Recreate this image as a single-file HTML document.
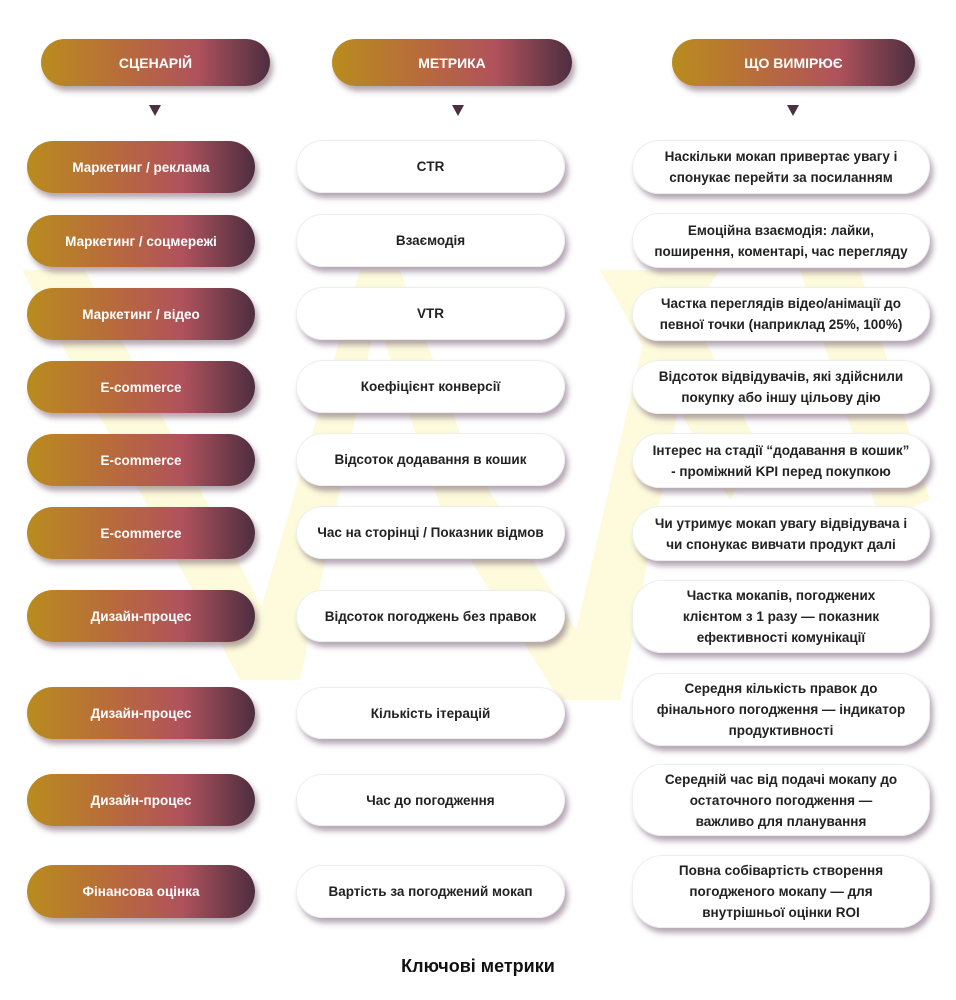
<!DOCTYPE html>
<html><head><meta charset="utf-8"><style>
body{margin:0;width:956px;height:1000px;background:#fff;position:relative;overflow:hidden;font-family:"Liberation Sans","DejaVu Sans",sans-serif;}
.p{position:absolute;border-radius:30px;display:flex;align-items:center;justify-content:center;text-align:center;font-weight:bold;box-sizing:border-box;}
.g{background:linear-gradient(90deg,#b98c1e 0%,#b86a3c 38%,#b0525c 68%,#4d2e40 100%);color:#fff;font-size:13.5px;box-shadow:3px 5px 6px rgba(90,60,80,.45);}
.w{background:#fff;color:#222;font-size:13.5px;box-shadow:3px 5px 6px rgba(90,60,90,.45),inset 0 0 0 1px #eee;line-height:21px;padding:0 4px;white-space:nowrap;}
.h{font-size:14px;}
.a{position:absolute;width:0;height:0;border-left:6px solid transparent;border-right:6px solid transparent;border-top:11px solid #4d3040;}
</style></head><body>
<svg style="position:absolute;left:0;top:0" width="956" height="1000">
<g fill="#fdfbdc">
<polygon points="22,270 85,270 300,680 240,680"/>
<polygon points="240,680 300,680 380,300 400,270 360,270"/>
<polygon points="360,270 400,270 470,460 445,520"/>
<polygon points="445,520 470,460 620,700 560,700"/>
<polygon points="560,700 620,700 700,300 720,270 660,270"/>
<polygon points="600,270 670,270 760,450 730,500"/>
<polygon points="800,270 860,270 930,500 880,520"/>
</g>
</svg>
<div class="p g h" style="left:41px;top:39px;width:229px;height:47px">СЦЕНАРІЙ</div>
<div class="p g h" style="left:332px;top:39px;width:240px;height:47px">МЕТРИКА</div>
<div class="p g h" style="left:672px;top:39px;width:243px;height:47px">ЩО ВИМІРЮЄ</div>
<div class="a" style="left:149px;top:105px"></div>
<div class="a" style="left:452px;top:105px"></div>
<div class="a" style="left:787px;top:105px"></div>

<div class="p g" style="left:27px;top:141px;width:228px;height:52px">Маркетинг / реклама</div>
<div class="p w" style="left:296px;top:140px;width:269px;height:53px">CTR</div>
<div class="p w" style="left:632px;top:140px;width:298px;height:54px">Наскільки мокап привертає увагу і<br>спонукає перейти за посиланням</div>

<div class="p g" style="left:27px;top:215px;width:228px;height:52px">Маркетинг / соцмережі</div>
<div class="p w" style="left:296px;top:214px;width:269px;height:53px">Взаємодія</div>
<div class="p w" style="left:632px;top:213px;width:298px;height:55px">Емоційна взаємодія: лайки,<br>поширення, коментарі, час перегляду</div>

<div class="p g" style="left:27px;top:288px;width:228px;height:52px">Маркетинг / відео</div>
<div class="p w" style="left:296px;top:287px;width:269px;height:53px">VTR</div>
<div class="p w" style="left:632px;top:287px;width:298px;height:54px">Частка переглядів відео/анімації до<br>певної точки (наприклад 25%, 100%)</div>

<div class="p g" style="left:27px;top:361px;width:228px;height:52px">E-commerce</div>
<div class="p w" style="left:296px;top:360px;width:269px;height:53px">Коефіцієнт конверсії</div>
<div class="p w" style="left:632px;top:360px;width:298px;height:54px">Відсоток відвідувачів, які здійснили<br>покупку або іншу цільову дію</div>

<div class="p g" style="left:27px;top:434px;width:228px;height:52px">E-commerce</div>
<div class="p w" style="left:296px;top:433px;width:269px;height:53px">Відсоток додавання в кошик</div>
<div class="p w" style="left:632px;top:433px;width:298px;height:55px">Інтерес на стадії “додавання в кошик”<br>- проміжний KPI перед покупкою</div>

<div class="p g" style="left:27px;top:507px;width:228px;height:52px">E-commerce</div>
<div class="p w" style="left:296px;top:506px;width:269px;height:53px">Час на сторінці / Показник відмов</div>
<div class="p w" style="left:632px;top:506px;width:298px;height:55px">Чи утримує мокап увагу відвідувача і<br>чи спонукає вивчати продукт далі</div>

<div class="p g" style="left:27px;top:590px;width:228px;height:52px">Дизайн-процес</div>
<div class="p w" style="left:296px;top:590px;width:269px;height:52px">Відсоток погоджень без правок</div>
<div class="p w" style="left:632px;top:580px;width:298px;height:73px">Частка мокапів, погоджених<br>клієнтом з 1 разу — показник<br>ефективності комунікації</div>

<div class="p g" style="left:27px;top:687px;width:228px;height:52px">Дизайн-процес</div>
<div class="p w" style="left:296px;top:687px;width:269px;height:52px">Кількість ітерацій</div>
<div class="p w" style="left:632px;top:673px;width:298px;height:73px">Середня кількість правок до<br>фінального погодження — індикатор<br>продуктивності</div>

<div class="p g" style="left:27px;top:774px;width:228px;height:52px">Дизайн-процес</div>
<div class="p w" style="left:296px;top:774px;width:269px;height:52px">Час до погодження</div>
<div class="p w" style="left:632px;top:764px;width:298px;height:72px">Середній час від подачі мокапу до<br>остаточного погодження —<br>важливо для планування</div>

<div class="p g" style="left:27px;top:865px;width:228px;height:53px">Фінансова оцінка</div>
<div class="p w" style="left:296px;top:865px;width:269px;height:53px">Вартість за погоджений мокап</div>
<div class="p w" style="left:632px;top:855px;width:298px;height:73px">Повна собівартість створення<br>погодженого мокапу — для<br>внутрішньої оцінки ROI</div>

<div style="position:absolute;left:0;width:956px;top:956px;text-align:center;font-weight:bold;font-size:18px;color:#111">Ключові метрики</div>
</body></html>
